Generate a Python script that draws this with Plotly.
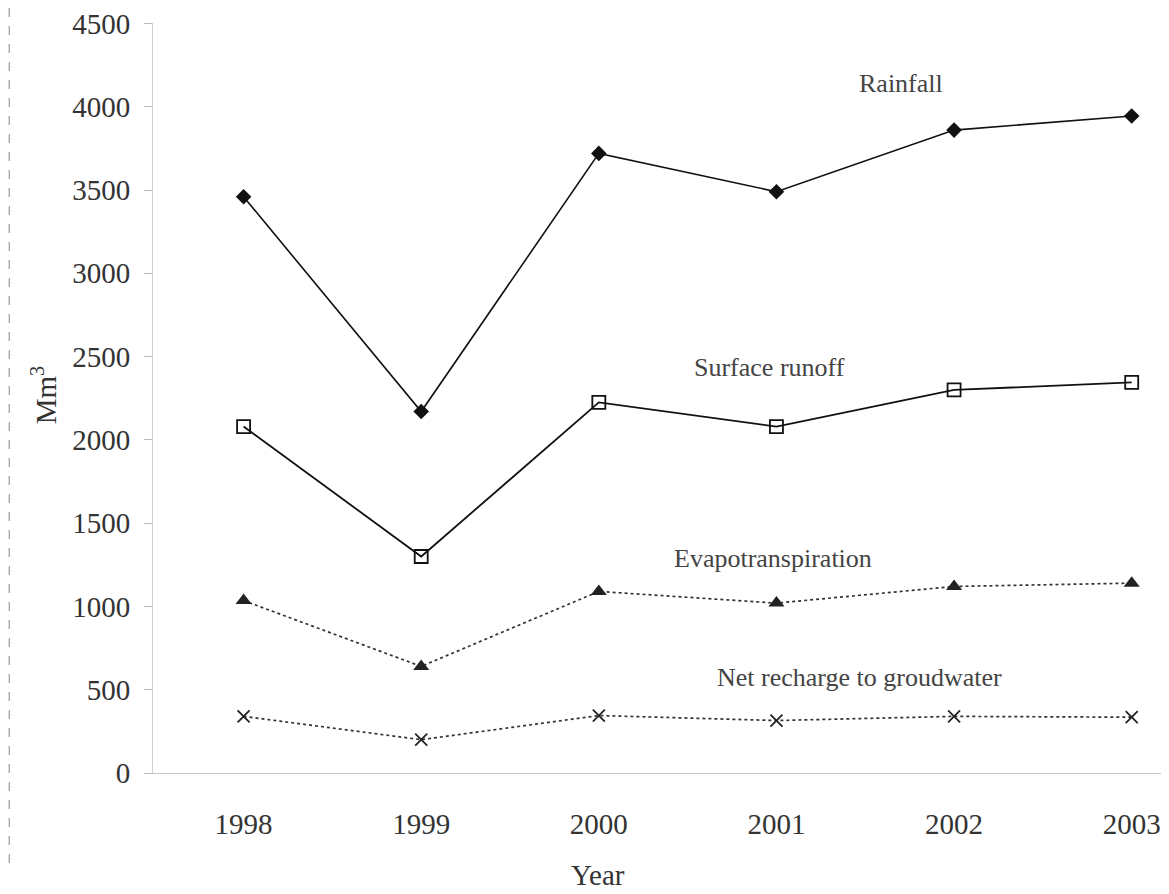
import plotly.graph_objects as go

years = [1998, 1999, 2000, 2001, 2002, 2003]
rainfall = [3460, 2170, 3720, 3490, 3860, 3945]
surface_runoff = [2080, 1300, 2225, 2080, 2300, 2345]
evapotranspiration = [1035, 640, 1090, 1020, 1120, 1140]
net_recharge = [340, 200, 345, 315, 340, 335]

y_ticks = [0, 500, 1000, 1500, 2000, 2500, 3000, 3500, 4000, 4500]

FONT = "Liberation Serif"

fig = go.Figure()
fig.add_trace(go.Scatter(x=years, y=rainfall, mode="lines+markers", name="Rainfall",
                         line=dict(color="#111", width=1.6),
                         marker=dict(symbol="diamond", size=12, color="#111")))
fig.add_trace(go.Scatter(x=years, y=surface_runoff, mode="lines+markers", name="Surface runoff",
                         line=dict(color="#111", width=1.8),
                         marker=dict(symbol="square-open", size=13, color="#111", line=dict(width=1.8))))
fig.add_trace(go.Scatter(x=years, y=evapotranspiration, mode="lines+markers", name="Evapotranspiration",
                         line=dict(color="#333", width=1.7, dash="dot"),
                         marker=dict(symbol="triangle-up", size=14, color="#222")))
fig.add_trace(go.Scatter(x=years, y=net_recharge, mode="lines+markers", name="Net recharge to groudwater",
                         line=dict(color="#333", width=1.7, dash="dot"),
                         marker=dict(symbol="x-thin", size=12, color="#222", line=dict(width=1.8, color="#222"))))

ann_font = dict(family=FONT, size=26, color="#444")
fig.add_annotation(x=2001.7, y=4140, text="Rainfall", showarrow=False, font=ann_font)
fig.add_annotation(x=2000.96, y=2436, text="Surface runoff", showarrow=False, font=ann_font)
fig.add_annotation(x=2000.98, y=1290, text="Evapotranspiration", showarrow=False, font=ann_font)
fig.add_annotation(x=2001.47, y=576, text="Net recharge to groudwater", showarrow=False, font=ann_font)

fig.add_annotation(xref="paper", yref="paper", x=-0.107, y=0.504, text="Mm<sup>3</sup>",
                   xanchor="center", yanchor="middle",
                   textangle=-90, showarrow=False, font=dict(family=FONT, size=29, color="#333"))
fig.add_annotation(xref="paper", yref="paper", x=0.438, y=-0.136, text="Year",
                   xanchor="center", yanchor="middle",
                   showarrow=False, font=dict(family=FONT, size=29, color="#333"))

# scan edge artifact
fig.add_shape(type="line", xref="paper", yref="paper", x0=-0.1415, x1=-0.1415, y0=-0.12, y1=1.03,
              line=dict(color="#999", width=1.2, dash="dash"))

fig.update_layout(
    width=1161, height=886,
    margin=dict(l=145, r=0, t=15, b=121),
    paper_bgcolor="white", plot_bgcolor="white",
    showlegend=False,
    font=dict(family=FONT, color="#333"),
)
fig.update_xaxes(range=[1997.49, 2003.21], tickvals=years, ticktext=[str(y) for y in years],
                 showgrid=False, zeroline=False, showline=True, linecolor="#c8c8c8", linewidth=1,
                 ticks="", tickfont=dict(family=FONT, size=29, color="#333"), ticklabelstandoff=25,
                 ticklabeloverflow="allow")
fig.update_yaxes(range=[0, 4503], tickvals=y_ticks, showgrid=False, zeroline=False,
                 showline=True, linecolor="#d0d0d0", linewidth=1,
                 ticks="outside", ticklen=8, tickcolor="#bbb",
                 tickfont=dict(family=FONT, size=29, color="#333"), ticklabelstandoff=8,
                 ticklabeloverflow="allow")

fig.write_html("out.html")
